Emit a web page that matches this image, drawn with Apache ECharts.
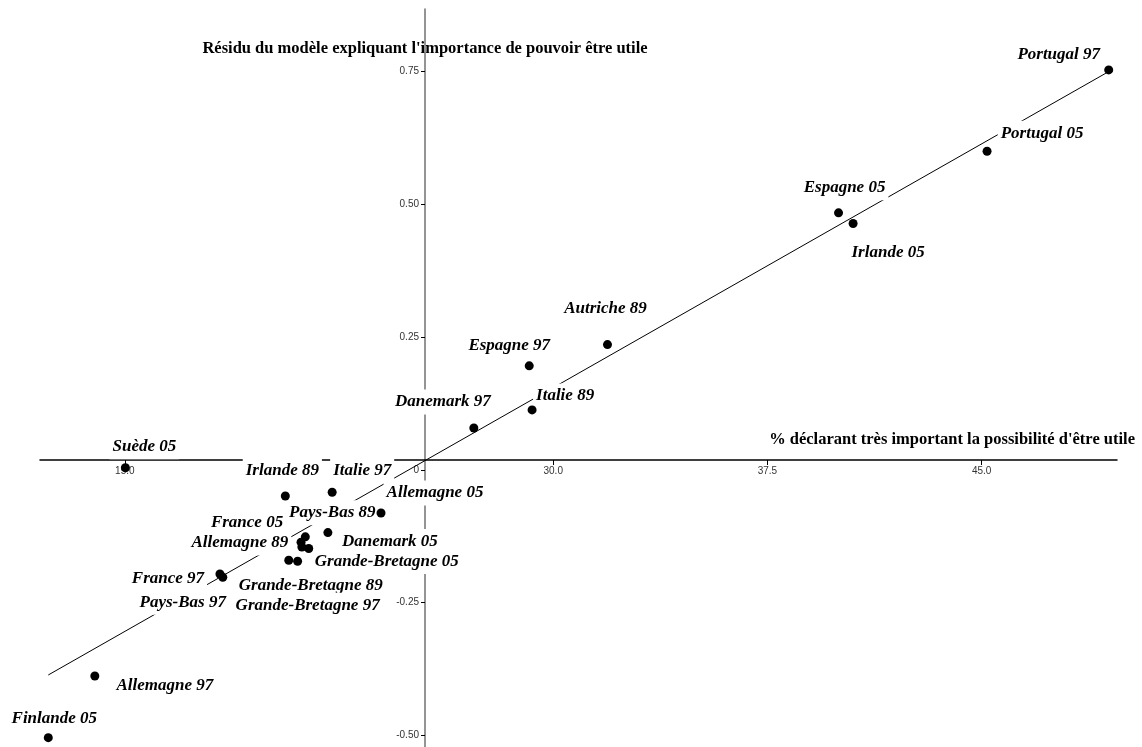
<!DOCTYPE html>
<html>
<head>
<meta charset="utf-8">
<script src="https://cdn.jsdelivr.net/npm/echarts@6/dist/echarts.min.js"></script>
<style>
html, body { margin: 0; padding: 0; background: #fff; }
#chart { width: 1142px; height: 747px; }
</style>
</head>
<body>
<div id="chart"></div>
<script>
const countries = ['Portugal 97', 'Portugal 05', 'Espagne 05', 'Irlande 05', 'Autriche 89', 'Espagne 97',
    'Italie 89', 'Danemark 97', 'Suède 05', 'Irlande 89', 'Italie 97', 'Allemagne 05', 'Danemark 05',
    'Pays-Bas 89', 'France 05', 'Allemagne 89', 'Grande-Bretagne 05', 'Grande-Bretagne 89',
    'Grande-Bretagne 97', 'France 97', 'Pays-Bas 97', 'Allemagne 97', 'Finlande 05'];
const pctUseful = [49.45, 45.19, 39.99, 40.50, 31.90, 29.16, 29.26, 27.22, 15.02, 20.62, 22.26, 23.97, 22.11,
    21.32, 21.17, 21.20, 21.44, 20.74, 21.05, 18.33, 18.43, 13.95, 12.32];
const residuals = [0.753, 0.600, 0.484, 0.464, 0.236, 0.196, 0.113, 0.079, 0.004, -0.049, -0.042, -0.081, -0.118,
    -0.126, -0.136, -0.145, -0.148, -0.170, -0.172, -0.196, -0.202, -0.388, -0.504];
const fitLine = [[12.32, -0.386], [49.42, 0.749]];
const xTicks = [15, 30, 37.5, 45];
const yTicks = [-0.5, -0.25, 0, 0.25, 0.5, 0.75];

// where each name sits relative to its point (px)
const labelOffsets = {
    'Portugal 97': [-50, -15], 'Portugal 05': [55, -18], 'Espagne 05': [6, -25], 'Irlande 05': [35, 29],
    'Autriche 89': [-2, -36], 'Espagne 97': [-20, -20], 'Italie 89': [33, -14], 'Danemark 97': [-31, -26],
    'Suède 05': [19, -21], 'Irlande 89': [-3, -25], 'Italie 97': [30, -22], 'Allemagne 05': [54, -20],
    'Danemark 05': [62, 9], 'Pays-Bas 89': [27, -24], 'France 05': [-54, -20], 'Allemagne 89': [-62, -4],
    'Grande-Bretagne 05': [78, 13], 'Grande-Bretagne 89': [22, 25], 'Grande-Bretagne 97': [10, 44],
    'France 97': [-52, 5], 'Pays-Bas 97': [-40, 25], 'Allemagne 97': [70, 10], 'Finlande 05': [6, -19]
};

const serif = "'Liberation Serif', 'Times New Roman', serif";
const points = countries.map((name, i) => ({ name: name, value: [pctUseful[i], residuals[i]] }));
const chart = echarts.init(document.getElementById('chart'));

chart.setOption({
    animation: false,
    backgroundColor: '#fff',
    grid: { left: 40, right: 25, top: 9, bottom: 0, outerBoundsMode: 'none' },
    xAxis: {
        type: 'value',
        min: 12.03,
        max: 49.74,
        position: 'bottom',
        offset: -287,
        name: "% déclarant très important la possibilité d'être utile",
        nameLocation: 'end',
        nameGap: 18,
        nameMoveOverlap: false,
        nameTextStyle: {
            fontFamily: serif, fontWeight: 'bold', fontSize: 16.5, color: '#000',
            align: 'right', verticalAlign: 'bottom', padding: [0, 0, 12, 0]
        },
        axisLine: { onZero: false, lineStyle: { color: '#000', width: 1.5 } },
        axisTick: { customValues: xTicks, length: 5, lineStyle: { color: '#000' } },
        axisLabel: {
            customValues: xTicks, margin: 6, fontSize: 10, color: '#333',
            fontFamily: "'Liberation Sans Narrow', 'Liberation Sans', sans-serif",
            formatter: v => v.toFixed(1)
        },
        splitLine: { show: false }
    },
    yAxis: {
        type: 'value',
        min: -0.5216,
        max: 0.8677,
        position: 'left',
        offset: -385,
        name: "Résidu du modèle expliquant l'importance de pouvoir être utile",
        nameLocation: 'end',
        nameGap: -51,
        nameMoveOverlap: false,
        nameTextStyle: {
            fontFamily: serif, fontWeight: 'bold', fontSize: 16.5, color: '#000',
            align: 'center', verticalAlign: 'bottom', backgroundColor: '#fff', padding: [3, 4, 3, 4]
        },
        axisLine: { onZero: false, lineStyle: { color: '#707070', width: 1.5 } },
        axisTick: { customValues: yTicks, length: 4, lineStyle: { color: '#000' } },
        axisLabel: {
            customValues: yTicks, margin: 6, fontSize: 10, color: '#333',
            fontFamily: "'Liberation Sans Narrow', 'Liberation Sans', sans-serif",
            formatter: v => (v === 0 ? '0' : v.toFixed(2))
        },
        splitLine: { show: false }
    },
    series: [
        {
            type: 'line',
            z: 1,
            data: fitLine,
            symbol: 'none',
            silent: true,
            lineStyle: { color: '#000', width: 1 }
        },
        {
            // names only, white boxes cut the lines behind them
            type: 'scatter',
            z: 3,
            symbol: 'circle',
            symbolSize: 1,
            silent: true,
            itemStyle: { color: 'rgba(0,0,0,0)', opacity: 1 },
            data: points.map(p => ({ name: p.name, value: p.value, label: { offset: labelOffsets[p.name] } })),
            label: {
                show: true,
                position: 'inside',
                formatter: '{b}',
                align: 'center',
                verticalAlign: 'middle',
                fontFamily: serif,
                fontStyle: 'italic',
                fontWeight: 'bold',
                fontSize: 17,
                color: '#000',
                backgroundColor: '#fff',
                padding: [4, 3, 4, 3]
            }
        },
        {
            type: 'scatter',
            z: 5,
            symbol: 'circle',
            symbolSize: 9,
            itemStyle: { color: '#000', opacity: 1 },
            data: points
        }
    ]
});
</script>
</body>
</html>
